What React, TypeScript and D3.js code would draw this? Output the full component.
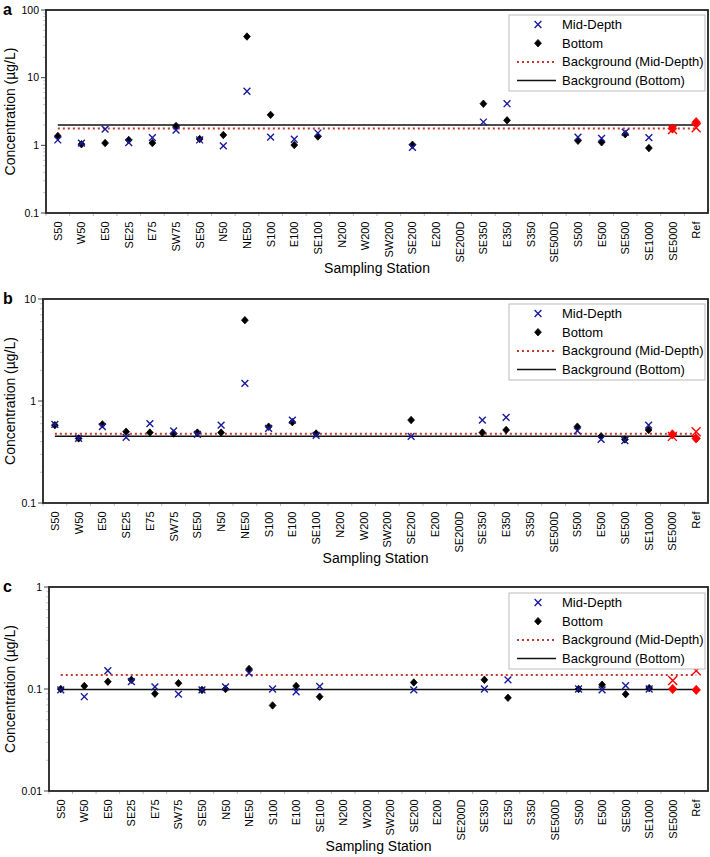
import React from "react";
import * as d3 from "d3";

const stations = [
  "S50", "W50", "E50", "SE25", "E75", "SW75", "SE50", "N50", "NE50", "S100",
  "E100", "SE100", "N200", "W200", "SW200", "SE200", "E200", "SE200D", "SE350",
  "E350", "S350", "SE500D", "S500", "E500", "SE500", "SE1000", "SE5000", "Ref",
];
const refStations = ["SE5000", "Ref"];

// Panel a (µg/L)
const midA = [1.2, 1.08, 1.74, 1.1, 1.3, 1.68, 1.2, 0.98, 6.3, 1.32, 1.23, 1.52, null, null, null, 0.93, null, null, 2.21, 4.12, null, null, 1.32, 1.27, 1.56, 1.3, 1.72, 1.82];
const botA = [1.37, 1.04, 1.08, 1.2, 1.08, 1.93, 1.24, 1.42, 40.5, 2.82, 1.01, 1.35, null, null, null, 1.02, null, null, 4.12, 2.34, null, null, 1.17, 1.11, 1.46, 0.91, 1.77, 2.2];
// Panel b
const midB = [0.59, 0.43, 0.56, 0.44, 0.6, 0.51, 0.47, 0.58, 1.49, 0.54, 0.65, 0.46, null, null, null, 0.45, null, null, 0.65, 0.69, null, null, 0.51, 0.42, 0.41, 0.58, 0.45, 0.5];
const botB = [0.58, 0.43, 0.59, 0.5, 0.49, 0.48, 0.49, 0.49, 6.2, 0.56, 0.62, 0.48, null, null, null, 0.65, null, null, 0.49, 0.52, null, null, 0.56, 0.45, 0.42, 0.52, 0.47, 0.43];
// Panel c
const midC = [0.098, 0.084, 0.151, 0.118, 0.105, 0.089, 0.098, 0.105, 0.143, 0.1, 0.094, 0.106, null, null, null, 0.098, null, null, 0.1, 0.123, null, null, 0.1, 0.098, 0.108, 0.1, 0.121, 0.151];
const botC = [0.1, 0.107, 0.118, 0.123, 0.09, 0.114, 0.098, 0.1, 0.157, 0.069, 0.107, 0.084, null, null, null, 0.116, null, null, 0.123, 0.082, null, null, 0.1, 0.11, 0.089, 0.102, 0.1, 0.098];

const bgMid = [1.78, 0.478, 0.137];
const bgBot = [2.0, 0.45, 0.099];

const panelLetters = ["a", "b", "c"];
const yDomains: [number, number][] = [[0.1, 100], [0.1, 10], [0.01, 1]];
const yTicks = [[0.1, 1, 10, 100], [0.1, 1, 10], [0.01, 0.1, 1]];
const yTickLabels = [["0.1", "1", "10", "100"], ["0.1", "1", "10"], ["0.01", "0.1", "1"]];
const midSeries = [midA, midB, midC];
const botSeries = [botA, botB, botC];

const legendLabels = ["Mid-Depth", "Bottom", "Background (Mid-Depth)", "Background (Bottom)"];
const xTitle = "Sampling Station";
const yTitle = "Concentration (µg/L)";

const layouts = [
  { top: 10, bottom: 213, left: 46, legendTop: 15 },
  { top: 299, bottom: 503, left: 43, legendTop: 304 },
  { top: 587, bottom: 791, left: 49, legendTop: 593 },
];
const RIGHT = 708;
const BLUE = "#1a1a9c";
const RED = "#ff0000";
const DOT = "#c0392b";
const FONT = "'Liberation Sans', Arial, sans-serif";

function Cross({ x, y, color, s }: { x: number; y: number; color: string; s: number }) {
  return (
    <path d={`M${x - s},${y - s}L${x + s},${y + s}M${x - s},${y + s}L${x + s},${y - s}`} stroke={color} strokeWidth={1.4} fill="none" />
  );
}
function Diamond({ x, y, color, s }: { x: number; y: number; color: string; s: number }) {
  return <path d={`M${x},${y - s * 1.1}L${x + s},${y}L${x},${y + s * 1.1}L${x - s},${y}Z`} fill={color} stroke={color} strokeWidth={0.8} />;
}

function Panel({ idx }: { idx: number }) {
  const L = layouts[idx];
  const x = d3.scaleBand<string>().domain(stations).range([L.left, RIGHT]).padding(0);
  const cx = (s: string) => (x(s) as number) + x.bandwidth() / 2;
  const y = d3.scaleLog().domain(yDomains[idx]).range([L.bottom, L.top]);
  const mid = midSeries[idx];
  const bot = botSeries[idx];
  const [d0, d1] = yDomains[idx];
  const minor: number[] = [];
  for (let e = Math.round(Math.log10(d0)); e < Math.round(Math.log10(d1)); e++) {
    for (let k = 2; k <= 9; k++) minor.push(k * Math.pow(10, e));
  }
  const x0 = cx(stations[0]);
  const x1 = cx(stations[stations.length - 1]);
  const lg = { x: 509, y: L.legendTop, w: 196, h: 76 };
  const rowY = (i: number) => lg.y + 9.5 + i * 18.7;
  const midCy = (L.top + L.bottom) / 2;
  return (
    <g>
      <text x={3} y={L.top + 5} fontSize={16} fontWeight="bold" fontFamily={FONT}>{panelLetters[idx]}</text>
      {minor.map((v, i) => (
        <line key={"m" + i} x1={L.left - 3} x2={L.left} y1={y(v)} y2={y(v)} stroke="#bbb" strokeWidth={0.8} />
      ))}
      {yTicks[idx].map((v, i) => (
        <g key={"t" + i}>
          <line x1={L.left - 5} x2={L.left} y1={y(v)} y2={y(v)} stroke="#444" strokeWidth={1} />
          <text x={L.left - 7} y={y(v) + 3.8} textAnchor="end" fontSize={10.5} fontFamily={FONT}>{yTickLabels[idx][i]}</text>
        </g>
      ))}
      {stations.map((s, i) => (
        <line key={"xt" + i} x1={x(s) as number} x2={x(s) as number} y1={L.bottom} y2={L.bottom + 3} stroke="#aaa" strokeWidth={0.8} />
      ))}
      {stations.map((s, i) => (
        <text key={"xl" + i} transform={`translate(${cx(s) + 4},${L.bottom + 8.5}) rotate(-90)`} textAnchor="end" fontSize={11} fontFamily={FONT}>{s}</text>
      ))}
      <text x={(L.left + RIGHT) / 2} y={L.bottom + 60} textAnchor="middle" fontSize={14} fontFamily={FONT}>{xTitle}</text>
      <text transform={`translate(15,${midCy}) rotate(-90)`} textAnchor="middle" fontSize={14} fontFamily={FONT}>{yTitle}</text>
      <line x1={x0} x2={x1} y1={y(bgBot[idx])} y2={y(bgBot[idx])} stroke="#111" strokeWidth={1.5} />
      <line x1={x0} x2={x1} y1={y(bgMid[idx])} y2={y(bgMid[idx])} stroke={DOT} strokeWidth={2} strokeDasharray="2,3" />
      {stations.map((s, i) => {
        const v = bot[i];
        if (v == null) return null;
        const isRef = refStations.includes(s);
        return <Diamond key={"b" + i} x={cx(s)} y={y(v)} color={isRef ? RED : "#000"} s={isRef ? 4.2 : 3.4} />;
      })}
      {stations.map((s, i) => {
        const v = mid[i];
        if (v == null) return null;
        const isRef = refStations.includes(s);
        return <Cross key={"x" + i} x={cx(s)} y={y(v)} color={isRef ? RED : BLUE} s={isRef ? 4.5 : 3.4} />;
      })}
      <rect x={L.left} y={L.top} width={RIGHT - L.left} height={L.bottom - L.top} fill="none" stroke="#222" strokeWidth={1.8} />
      <rect x={lg.x} y={lg.y} width={lg.w} height={lg.h} fill="#fff" stroke="#bbb" strokeWidth={1} />
      <Cross x={538} y={rowY(0)} color={BLUE} s={3.4} />
      <Diamond x={538} y={rowY(1)} color="#000" s={3.4} />
      <line x1={517} x2={556} y1={rowY(2)} y2={rowY(2)} stroke={DOT} strokeWidth={2} strokeDasharray="2,3" />
      <line x1={517} x2={556} y1={rowY(3)} y2={rowY(3)} stroke="#111" strokeWidth={1.5} />
      {legendLabels.map((t, i) => (
        <text key={"l" + i} x={562} y={rowY(i) + 4.5} fontSize={13} fontFamily={FONT}>{t}</text>
      ))}
    </g>
  );
}

export default function App() {
  return (
    <svg width={710} height={857} style={{ position: "absolute", left: 0, top: 0, background: "#fff" }}>
      <rect width={710} height={857} fill="#fff" />
      {[0, 1, 2].map((i) => (
        <Panel key={i} idx={i} />
      ))}
    </svg>
  );
}
